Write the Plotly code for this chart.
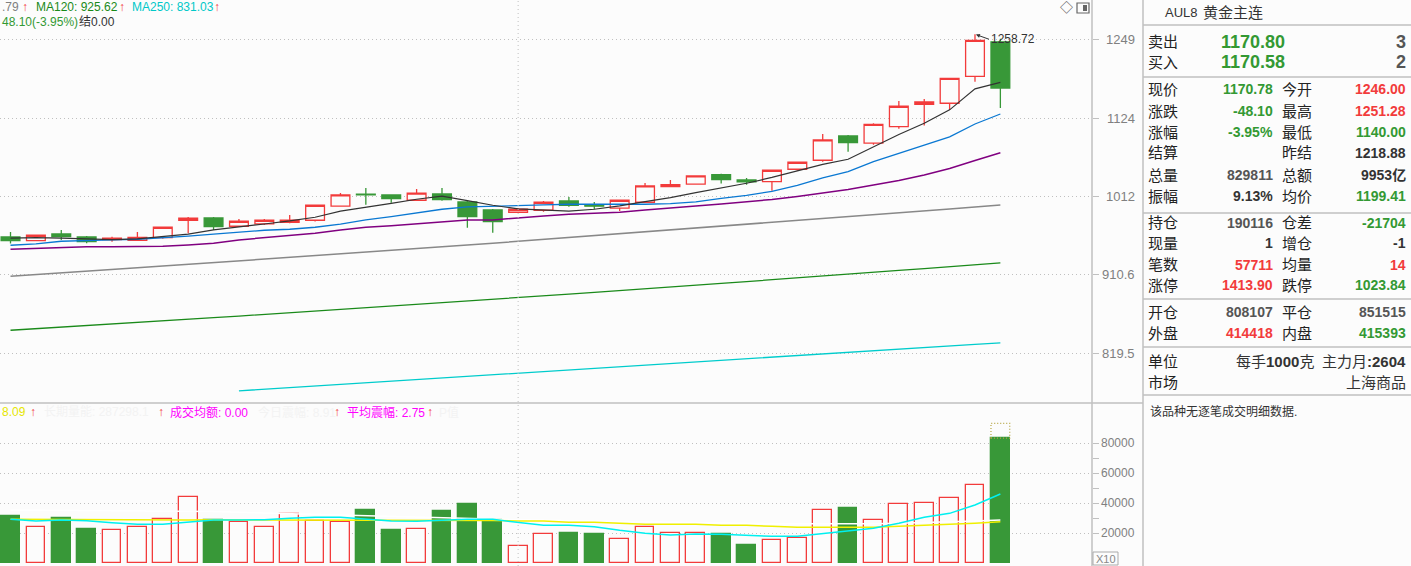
import numpy as np
import plotly.graph_objects as go

W, H = 1411, 566
PLOT_W = 1092
SPLIT_Y = 403

# ---------------- data ----------------
opens = [958.4, 953.6, 962.2, 958.4, 954.9, 954.1, 957.4, 980.1, 983.2, 972.2,
         975.3, 977.5, 980.1, 998.8, 1015.0, 1014.1, 1006.8, 1015.4, 1004.5, 993.8,
         990.7, 993.4, 1005.9, 1000.5, 996.1, 1004.1, 1025.4, 1028.8, 1042.1, 1034.7,
         1032.4, 1049.7, 1062.5, 1097.8, 1087.1, 1111.5, 1145.6, 1147.1, 1189.5, 1246.0]
highs = [964.8, 961.5, 967.4, 959.6, 958.7, 964.8, 971.3, 984.5, 984.5, 981.8,
         981.8, 987.2, 1000.5, 1016.8, 1023.7, 1014.8, 1022.3, 1023.7, 1005.9, 995.1,
         996.5, 1005.9, 1011.3, 1004.5, 1007.2, 1030.6, 1034.7, 1041.0, 1043.5, 1037.5,
         1048.7, 1060.8, 1100.7, 1099.3, 1116.6, 1150.7, 1153.8, 1186.8, 1258.72, 1251.28]
lows = [949.8, 952.8, 954.5, 950.3, 952.3, 953.9, 956.1, 963.1, 967.4, 972.0,
        974.0, 976.2, 978.3, 998.5, 1000.9, 1003.6, 1006.5, 1006.3, 970.4, 963.9,
        989.8, 991.5, 998.2, 994.7, 992.5, 1003.8, 1025.4, 1028.5, 1029.6, 1028.2,
        1019.9, 1047.7, 1060.5, 1074.8, 1085.0, 1108.5, 1113.4, 1136.8, 1180.9, 1140.0]
closes = [953.6, 960.5, 958.7, 952.3, 956.7, 957.9, 970.9, 982.8, 971.7, 978.8,
          980.1, 980.1, 1000.1, 1014.1, 1014.3, 1009.0, 1016.4, 1007.6, 984.9, 978.3,
          994.7, 1004.1, 1000.1, 998.8, 1006.8, 1026.4, 1028.2, 1040.3, 1035.1, 1031.9,
          1048.3, 1059.6, 1091.9, 1087.9, 1115.1, 1142.5, 1149.1, 1186.3, 1248.5, 1170.78]

ma5 = [956.7, 957.5, 956.7, 955.4, 954.9, 955.8, 958.7, 961.9, 967.4, 971.7,
       975.2, 979.2, 984.1, 992.1, 996.9, 1002.7, 1008.2, 1012.3, 1006.3, 1000.1,
       995.1, 993.8, 992.1, 994.7, 999.2, 1004.9, 1010.4, 1017.2, 1023.7, 1030.1,
       1038.2, 1047.5, 1056.5, 1063.9, 1082.0, 1100.0, 1116.6, 1137.0, 1169.5, 1179.9]
ma10 = [947.7, 949.4, 952.8, 953.2, 954.5, 955.4, 957.1, 959.3, 961.9, 964.8,
        967.0, 968.3, 970.9, 974.9, 980.5, 984.9, 989.4, 994.7, 997.8, 998.8,
        1000.5, 1000.5, 1001.4, 1001.4, 1000.5, 1001.4, 1002.2, 1004.5, 1009.5, 1013.5,
        1019.0, 1027.1, 1037.5, 1046.3, 1060.5, 1072.6, 1084.6, 1096.4, 1115.6, 1130.7]
ma20 = [942.6, 943.9, 945.5, 945.9, 945.9, 946.4, 946.4, 948.1, 950.3, 954.5,
        957.1, 959.6, 963.1, 967.4, 970.9, 973.0, 975.2, 977.5, 980.5, 980.5,
        983.6, 985.8, 988.1, 989.4, 990.7, 993.8, 996.1, 999.2, 1001.8, 1004.5,
        1007.9, 1012.0, 1016.8, 1021.6, 1027.8, 1034.0, 1041.6, 1050.8, 1062.2, 1073.3]
ma60 = [909.1, 911.0, 913.1, 915.2, 917.3, 919.4, 921.5, 923.6, 925.7, 927.8,
        930.1, 932.2, 934.5, 936.6, 938.8, 941.1, 943.4, 945.7, 948.0, 950.3,
        952.7, 955.0, 957.3, 959.8, 962.2, 964.6, 967.0, 969.5, 972.0, 974.5,
        977.0, 979.6, 982.1, 984.8, 987.3, 990.0, 992.5, 995.1, 997.8, 1000.5]
ma120 = [845.3, 847.2, 848.9, 850.7, 852.4, 854.2, 856.1, 857.9, 859.8, 861.6,
         863.5, 865.4, 867.3, 869.3, 871.2, 873.2, 875.2, 877.2, 879.2, 881.2,
         883.2, 885.4, 887.4, 889.5, 891.5, 893.7, 895.9, 898.0, 900.3, 902.5,
         904.6, 907.0, 909.2, 911.5, 913.7, 916.1, 918.4, 920.8, 923.1, 925.6]
ma250 = [None] * 9 + [779.2, 780.9, 782.6, 784.3, 786.0, 787.7, 789.4, 791.1, 792.8, 794.6,
                      796.3, 798.0, 799.7, 801.4, 803.1, 804.8, 806.6, 808.3, 810.0, 811.8,
                      813.5, 815.2, 817.0, 818.8, 820.5, 822.3, 824.1, 825.9, 827.7, 829.5,
                      831.0]

volumes = [31500, 24000, 30200, 22900, 22000, 24000, 29300, 44000, 28700, 27300,
           24000, 32700, 28000, 27300, 35500, 22200, 22700, 34900, 39500, 28700,
           11300, 19300, 20200, 19500, 16000, 24000, 20000, 20000, 19300, 12200,
           15300, 16700, 35300, 36900, 28700, 39300, 40000, 43300, 52000, 83500]
vol_projected_last = 93300
vol_ma_yellow = [29300, 29200, 29100, 29000, 29000, 29000, 29000, 28900, 29000, 29000,
                 28900, 28900, 28900, 28900, 29000, 28900, 28900, 28800, 28800, 28600,
                 28200, 28200, 27300, 27300, 26700, 26000, 26000, 26000, 25300, 25300,
                 24700, 24000, 24000, 24000, 24000, 24700, 25300, 26000, 26700, 27700]
vol_ma_cyan = [29300, 28200, 28900, 28400, 27100, 26000, 26000, 27700, 28900, 28900,
               29100, 30000, 30700, 30700, 29700, 28200, 28000, 28900, 29300, 29300,
               27300, 25300, 25300, 24400, 22000, 20000, 18900, 19500, 19300, 18700,
               18000, 18000, 19700, 21500, 23300, 26700, 30700, 33300, 38900, 46200]
vol_ma_white = [35500, 35400, 35300, 35200, 35100, 35000, 34900, 34800, 34500, 34000,
                33500, 33000, 32500, 32000, 31500, 31000, 30500, 30000, 30000, 29500,
                29000, 28700, 28400, 28100, 27800, 27500, 27200, 27000, 26800, 26600,
                26400, 26300, 26200, 26200, 26400, 26700, 27100, 27600, 28200, 28900]

price_ticks = [819.5, 910.6, 1012, 1124, 1249]
price_tick_labels = ["819.5", "910.6", "1012", "1124", "1249"]
vol_ticks = [20000, 40000, 60000, 80000]
vol_tick_labels = ["20000", "40000", "60000", "80000"]
vol_minor_ticks = [30000, 50000, 70000]
separator_index = 20
high_mark_label = "1258.72"

info_rows = [
    ("现价", "1170.78", "g", "今开", "1246.00", "r"),
    ("涨跌", "-48.10", "g", "最高", "1251.28", "r"),
    ("涨幅", "-3.95%", "g", "最低", "1140.00", "g"),
    ("结算", "", "d", "昨结", "1218.88", "d"),
    ("总量", "829811", "s", "总额", "9953亿", "d"),
    ("振幅", "9.13%", "d", "均价", "1199.41", "g"),
    ("持仓", "190116", "s", "仓差", "-21704", "g"),
    ("现量", "1", "d", "增仓", "-1", "d"),
    ("笔数", "57711", "r", "均量", "14", "r"),
    ("涨停", "1413.90", "r", "跌停", "1023.84", "g"),
    ("开仓", "808107", "s", "平仓", "851515", "s"),
    ("外盘", "414418", "r", "内盘", "415393", "g"),
]

# ---------------- style ----------------
BG = "#fcfcfc"
RED = "#f23b3b"
GREEN = "#389838"
TXT_GREEN = "#339933"
GRID = "#c0c0c0"
AXIS = "#c0c0c0"
FONT = "Liberation Sans, Noto Sans CJK SC, sans-serif"
COLORS = {"g": TXT_GREEN, "r": RED, "d": "#333333", "s": "#555555"}

x = list(range(len(opens)))
up = [c >= o for o, c in zip(opens, closes)]

fig = go.Figure()

fig.add_trace(go.Candlestick(
    x=x, open=opens, high=highs, low=lows, close=closes,
    increasing=dict(line=dict(color=RED, width=1.3), fillcolor=BG),
    decreasing=dict(line=dict(color=GREEN, width=1.3), fillcolor=GREEN),
    whiskerwidth=0, xaxis="x", yaxis="y", showlegend=False, hoverinfo="skip"))

for series, color, width in [(ma250, "#00cccc", 1.3), (ma120, "#1a8a1a", 1.3), (ma60, "#888888", 1.5),
                             (ma20, "#800080", 1.5), (ma10, "#0a78d2", 1.3), (ma5, "#333333", 1.2)]:
    fig.add_trace(go.Scatter(x=x, y=series, mode="lines", line=dict(color=color, width=width),
                             xaxis="x", yaxis="y", showlegend=False, hoverinfo="skip",
                             connectgaps=False))

fig.add_trace(go.Bar(
    x=x, y=volumes, width=0.74,
    marker=dict(color=[BG if u else GREEN for u in up],
                line=dict(color=[RED if u else GREEN for u in up], width=1.3)),
    xaxis="x2", yaxis="y2", showlegend=False, hoverinfo="skip"))

for series, color in [(vol_ma_white, "#ffffff"), (vol_ma_yellow, "#f0f000"), (vol_ma_cyan, "#00f0f0")]:
    fig.add_trace(go.Scatter(x=x, y=series, mode="lines", line=dict(color=color, width=1.5),
                             xaxis="x2", yaxis="y2", showlegend=False, hoverinfo="skip"))

n = len(x)
x_lo = -0.414
x_hi = 42.61
split = 1 - SPLIT_Y / H


def px(xp):
    return xp / PLOT_W


def py(yp):
    return 1 - yp / H


annotations = []


def txt(s, xp, yp, color="#333333", size=14, anchor="left", family=FONT):
    annotations.append(dict(text=s, x=px(xp), y=py(yp), xref="paper", yref="paper",
                            xanchor=anchor, yanchor="middle", showarrow=False,
                            font=dict(color=color, size=size, family=family)))


# price axis labels
for v, lab in zip(price_ticks, price_tick_labels):
    annotations.append(dict(text=lab, x=px(1137), y=np.log10(v), xref="paper", yref="y",
                            xanchor="right", yanchor="middle", showarrow=False,
                            font=dict(color="#808080", size=13, family=FONT)))
for v, lab in zip(vol_ticks, vol_tick_labels):
    annotations.append(dict(text=lab, x=px(1137), y=v, xref="paper", yref="y2",
                            xanchor="right", yanchor="middle", showarrow=False,
                            font=dict(color="#808080", size=12, family=FONT)))

# highest price marker
annotations.append(dict(text=high_mark_label, x=highs.index(max(highs)), y=np.log10(max(highs)),
                        xref="x", yref="y", ax=14, ay=5, xanchor="left", yanchor="middle",
                        showarrow=True, arrowhead=2, arrowsize=0.8, arrowwidth=1,
                        arrowcolor="#333333", standoff=1,
                        font=dict(color="#333333", size=12, family=FONT)))

# top legend (price)
txt(".79", 0, 7, "#808080", 12)
txt("↑", 20, 7, RED, 12)
txt("MA120: 925.62", 34, 7, "#1a8a1a", 12)
txt("↑", 117, 7, RED, 12)
txt("MA250: 831.03", 130, 7, "#00c8c8", 12)
txt("↑", 212, 7, RED, 12)
txt("48.10(-3.95%)", 0, 22, TXT_GREEN, 12)
txt("结0.00", 77, 22, "#333333", 12)

# volume legend
txt("8.09", 0, 412, "#e6e600", 12)
txt("↑", 28, 412, RED, 12)
txt("长期量能: 287298.1", 42, 412, "#f3f3f3", 12)
txt("↑", 156, 412, RED, 12)
txt("成交均额: 0.00", 168, 412, "#ff00ff", 12)
txt("今日震幅: 8.91", 256, 412, "#f3f3f3", 12)
txt("↑", 332, 412, RED, 12)
txt("平均震幅: 2.75", 345, 412, "#ff00ff", 12)
txt("↑", 425, 412, RED, 12)
txt("P值", 437, 412, "#f3f3f3", 12)

# icons top right
txt("◇", 1058, 8, "#555555", 13)

# X10 box
txt("X10", 1105.5, 558.5, "#888888", 11, "center")

# right info panel
txt("AUL8", 1163, 12.5, "#333333", 13)
txt("黄金主连", 1201, 12.5, "#333333", 15)
txt("卖出", 1146, 42, "#222222", 15)
txt("<b>1170.80</b>", 1287, 42, TXT_GREEN, 18, "right")
txt("<b>3</b>", 1408, 42, "#555555", 18, "right")
txt("买入", 1146, 62, "#222222", 15)
txt("<b>1170.58</b>", 1287, 62, TXT_GREEN, 18, "right")
txt("<b>2</b>", 1408, 62, "#555555", 18, "right")

row_y = [89, 111, 132, 153, 175, 196, 222.7, 243.5, 264.5, 285, 312, 333]
for (l1, v1, c1, l2, v2, c2), yy in zip(info_rows, row_y):
    txt(l1, 1146, yy, "#222222", 15)
    if v1:
        txt("<b>" + v1 + "</b>", 1275, yy, COLORS[c1], 14, "right")
    txt(l2, 1280, yy, "#222222", 15)
    txt("<b>" + v2 + "</b>", 1408, yy, COLORS[c2], 14, "right")

txt("单位", 1146, 361, "#222222", 15)
txt("每手<b>1000</b>克", 1316, 361, "#333333", 15, "right")
txt("主力月<b>:2604</b>", 1408, 361, "#333333", 15, "right")
txt("市场", 1146, 382, "#222222", 15)
txt("上海商品", 1408, 382, "#333333", 15, "right")
txt("该品种无逐笔成交明细数据.", 1148, 411, "#333333", 12)

# ---------------- shapes ----------------
shapes = []


def pline(x0, y0, x1, y1, color=AXIS, width=1, dash="solid"):
    shapes.append(dict(type="line", xref="paper", yref="paper",
                       x0=px(x0), y0=py(y0), x1=px(x1), y1=py(y1),
                       line=dict(color=color, width=width, dash=dash)))


pline(PLOT_W, 0, PLOT_W, H, AXIS, 1.5)
pline(0, SPLIT_Y, 1143, SPLIT_Y, AXIS, 1.5)
pline(1143, 0, 1143, H, AXIS, 1.5)
for yy in [25, 77, 213, 299, 347, 395]:
    pline(1143, yy, W, yy, AXIS, 1.5)

shapes.append(dict(type="line", xref="x", yref="paper", x0=separator_index, x1=separator_index,
                   y0=0, y1=1, line=dict(color=GRID, width=1, dash="1px,3px")))

shapes.append(dict(type="rect", xref="x2", yref="y2", x0=n - 1 - 0.37, x1=n - 1 + 0.37,
                   y0=volumes[-1], y1=vol_projected_last,
                   line=dict(color="#b5a642", width=1.2, dash="1px,2px"), fillcolor="rgba(0,0,0,0)"))

shapes.append(dict(type="rect", xref="paper", yref="paper", x0=px(1093), x1=px(1118),
                   y0=py(565), y1=py(552), line=dict(color="#aaaaaa", width=1)))
shapes.append(dict(type="rect", xref="paper", yref="paper", x0=px(1077), x1=px(1089),
                   y0=py(13), y1=py(3), line=dict(color="#666666", width=1.2)))
shapes.append(dict(type="rect", xref="paper", yref="paper", x0=px(1083), x1=px(1087),
                   y0=py(11), y1=py(5), line=dict(width=0), fillcolor="#666666"))

fig.update_layout(
    width=W, height=H, autosize=False,
    margin=dict(l=0, r=W - PLOT_W, t=0, b=0, pad=0),
    paper_bgcolor=BG, plot_bgcolor=BG,
    boxgap=0.26, boxgroupgap=0,
    bargap=0,
    showlegend=False,
    hovermode=False,
    xaxis=dict(domain=[0, 1], range=[x_lo, x_hi], anchor="y", showgrid=False, zeroline=False,
               showticklabels=False, ticks="", showline=False, rangeslider=dict(visible=False)),
    xaxis2=dict(domain=[0, 1], range=[x_lo, x_hi], anchor="y2", matches="x", showgrid=False,
                zeroline=False, showticklabels=False, ticks="", showline=False),
    yaxis=dict(domain=[split, 1], type="log", range=[2.88453, 3.11992], side="right", anchor="x",
               tickvals=price_ticks, showticklabels=False, ticks="outside", ticklen=6,
               tickcolor=AXIS, showgrid=True, gridcolor=GRID, griddash="1px,3px", gridwidth=1,
               zeroline=False, showline=False),
    yaxis2=dict(domain=[0, split], range=[-1800, 106870], side="right", anchor="x2",
                tickvals=vol_ticks, showticklabels=False, ticks="outside", ticklen=6,
                tickcolor=AXIS, showgrid=True, gridcolor=GRID, griddash="1px,3px", gridwidth=1,
                zeroline=False, showline=False,
                minor=dict(tickvals=vol_minor_ticks, ticks="outside", ticklen=6, tickcolor=AXIS,
                           showgrid=False)),
    annotations=annotations,
    shapes=shapes,
)

fig.write_html("out.html", config={"displayModeBar": False},
               post_script="document.body.style.margin='0';document.body.style.padding='0';"
                           "document.documentElement.style.background='#fcfcfc';")
